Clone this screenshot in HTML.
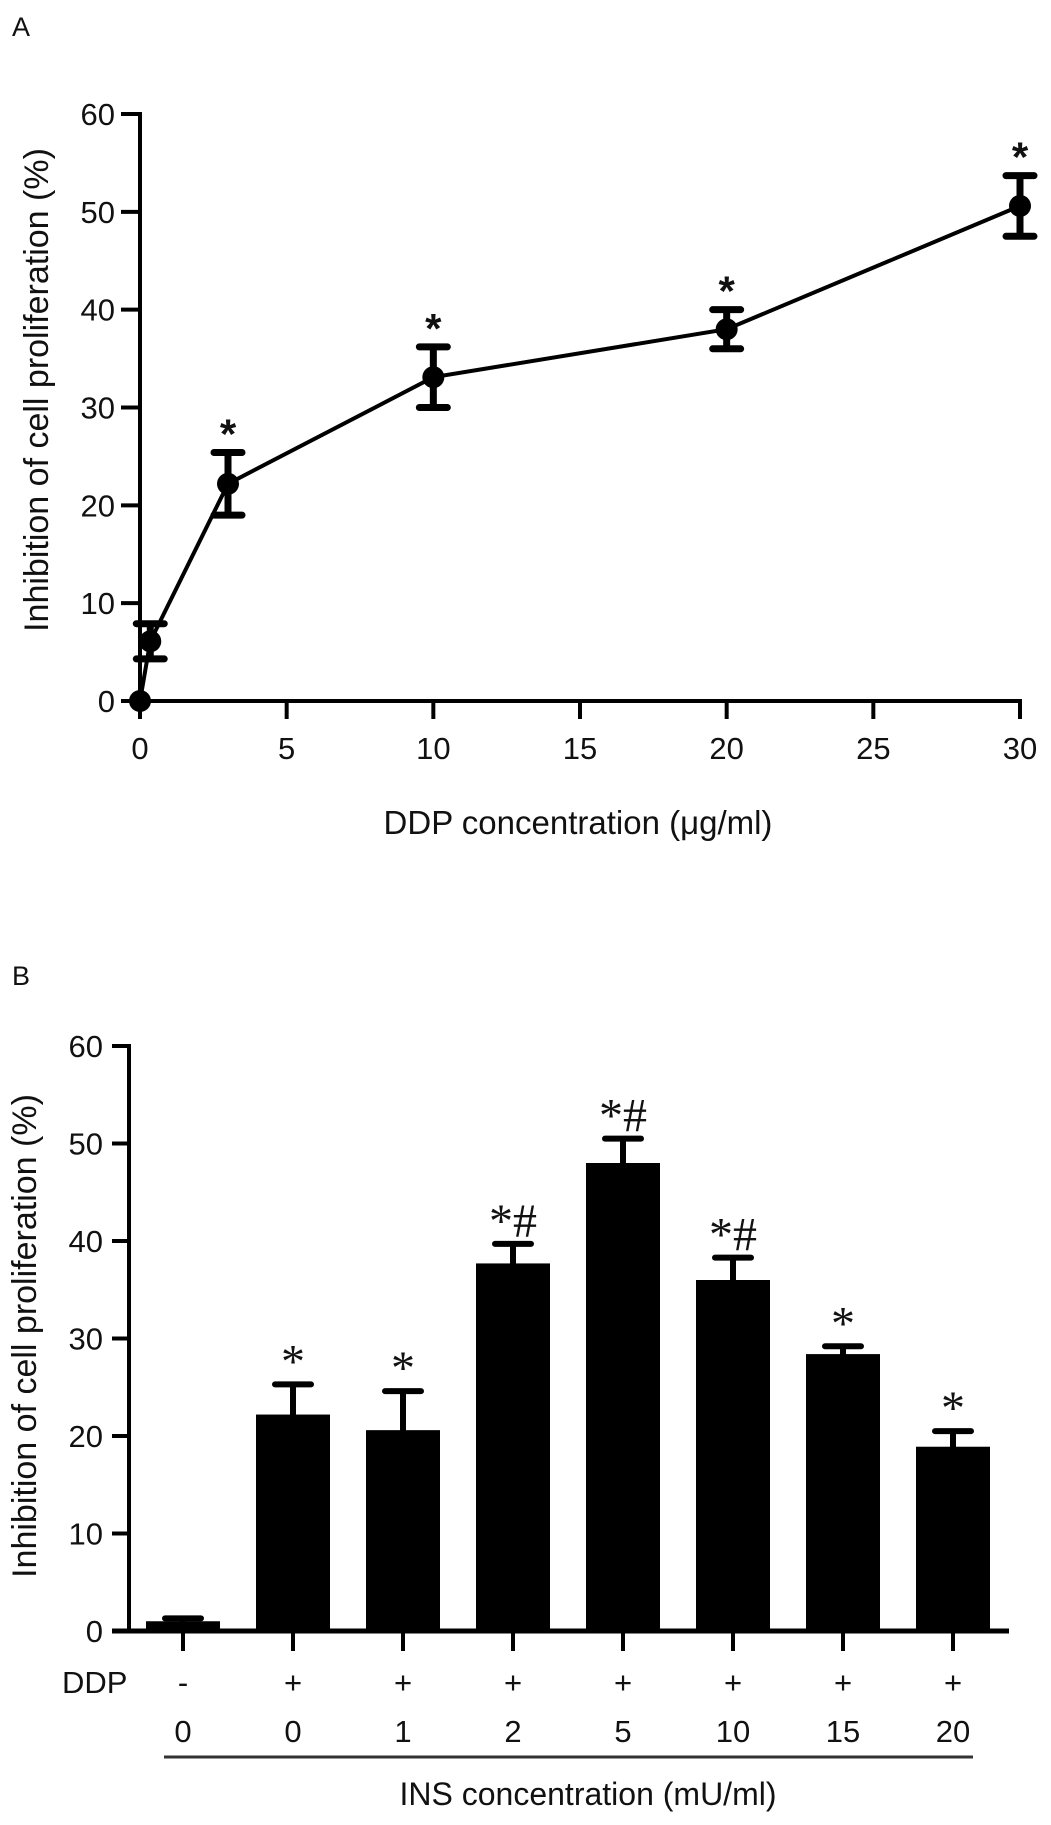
<!DOCTYPE html>
<html><head><meta charset="utf-8"><style>
html,body{margin:0;padding:0;background:#fff}
svg{display:block}
text{font-family:"Liberation Sans",Arial,sans-serif;fill:#111}
</style></head><body>
<svg id="fig" width="1051" height="1825" viewBox="0 0 1051 1825"></svg>
<script>
// Panel A data
const aX = [0, 0.35, 3, 10, 20, 30];
const aY = [0, 6.1, 22.2, 33.1, 38, 50.6];
const aErr = [0, 1.8, 3.2, 3.1, 2.0, 3.1];
const aStar = [false, false, true, true, true, true];
const aXTicks = [0, 5, 10, 15, 20, 25, 30];
const aYTicks = [0, 10, 20, 30, 40, 50, 60];
// Panel B data
const bCats = ["0", "0", "1", "2", "5", "10", "15", "20"];
const bDDP = ["-", "+", "+", "+", "+", "+", "+", "+"];
const bVals = [1.0, 22.2, 20.6, 37.7, 48.0, 36.0, 28.4, 18.9];
const bErr = [0.3, 3.1, 4.0, 2.0, 2.5, 2.3, 0.8, 1.6];
const bMarks = ["", "*", "*", "*#", "*#", "*#", "*", "*"];
const bYTicks = [0, 10, 20, 30, 40, 50, 60];

const NS = "http://www.w3.org/2000/svg";
const svg = document.getElementById("fig");
function el(tag, attrs, parent) {
  const e = document.createElementNS(NS, tag);
  for (const k in attrs) e.setAttribute(k, attrs[k]);
  (parent || svg).appendChild(e);
  return e;
}
function txt(s, attrs, parent) { const t = el("text", attrs, parent); t.textContent = s; return t; }
const FT = 31, FL = 33;

// ---------- Panel A ----------
const ax = v => 140 + v * (1020 - 140) / 30;
const ay = v => 701 - v * (701 - 114) / 60;
const gA = el("g", {});


const lblA = txt("A", {x: 12, y: 36, "font-size": 27}, gA);


const yAxA = el("line", {x1: ax(0), y1: ay(60) - 2, x2: ax(0), y2: ay(0), stroke: "#000", "stroke-width": 4}, gA);


const xAxA = el("line", {x1: ax(0) - 2, y1: ay(0), x2: ax(30) + 2, y2: ay(0), stroke: "#000", "stroke-width": 4}, gA);


aYTicks.forEach(v => {
  const t = el("line", {x1: ax(0) - 19, y1: ay(v), x2: ax(0), y2: ay(v), stroke: "#000", "stroke-width": 4}, gA);
  
  
  const l = txt(String(v), {x: ax(0) - 25, y: ay(v) + 11, "font-size": FT, "text-anchor": "end"}, gA);
  
  
});
aXTicks.forEach(v => {
  const t = el("line", {x1: ax(v), y1: ay(0), x2: ax(v), y2: ay(0) + 18, stroke: "#000", "stroke-width": 4}, gA);
  
  
  const l = txt(String(v), {x: ax(v), y: 759, "font-size": FT, "text-anchor": "middle"}, gA);
  
  
});
const ytA = txt("Inhibition of cell proliferation (%)", {x: 0, y: 0, "font-size": 34, "text-anchor": "middle", transform: "translate(48,390) rotate(-90)"}, gA);


const xtA = txt("DDP concentration (\u03bcg/ml)", {x: 578, y: 834, "font-size": FL, "text-anchor": "middle"}, gA);


const pts = aX.map((x, i) => ax(x) + "," + ay(aY[i])).join(" ");
const lineA = el("polyline", {points: pts, fill: "none", stroke: "#000", "stroke-width": 4}, gA);


aX.forEach((x, i) => {
  const cx = ax(x), cy = ay(aY[i]);
  if (aErr[i] > 0) {
    const top = ay(aY[i] + aErr[i]), bot = ay(aY[i] - aErr[i]);
    const e = el("path", {d: `M${cx},${top}V${bot}M${cx-14},${top}H${cx+14}M${cx-14},${bot}H${cx+14}`, stroke: "#000", "stroke-width": 7, "stroke-linecap": "round", fill: "none"}, gA);
    
    
    if (aStar[i]) {
      const s = txt("*", {x: cx, y: top - 4, "font-size": 42, "font-weight": "bold", "text-anchor": "middle"}, gA);
      
      
    }
  }
  const c = el("circle", {cx: cx, cy: cy, r: 11, fill: "#000"}, gA);
  
  
});

// ---------- Panel B ----------
const bx = i => 183 + i * 110;
const by = v => 1631 - v * (1631 - 1046) / 60;
const gB = el("g", {});


const lblB = txt("B", {x: 12, y: 985, "font-size": 27}, gB);


bVals.forEach((v, i) => {
  const cx = bx(i), top = by(v);
  const r = el("rect", {x: cx - 37, y: top, width: 74, height: by(0) - top, fill: "#000"}, gB);
  
  
  const et = by(v + bErr[i]);
  const e = el("path", {d: `M${cx},${top}V${et}M${cx-18},${et}H${cx+18}`, stroke: "#000", "stroke-width": 6, "stroke-linecap": "round", fill: "none"}, gB);
  
  
  if (bMarks[i]) {
    const s = txt(bMarks[i], {x: cx, y: et - 7, "font-size": 48, "text-anchor": "middle", style: "font-family:'Liberation Serif',serif"}, gB);
    
    
  }
  const t = el("line", {x1: cx, y1: by(0), x2: cx, y2: by(0) + 20, stroke: "#000", "stroke-width": 4}, gB);
  
  
  const d = txt(bDDP[i], {x: cx, y: 1693, "font-size": FT, "text-anchor": "middle"}, gB);
  
  
  const c = txt(bCats[i], {x: cx, y: 1742, "font-size": FT, "text-anchor": "middle"}, gB);
  
  
});
const yAxB = el("line", {x1: 129, y1: by(60) - 2, x2: 129, y2: by(0), stroke: "#000", "stroke-width": 4}, gB);


const xAxB = el("line", {x1: 112, y1: by(0), x2: 1009, y2: by(0), stroke: "#000", "stroke-width": 5}, gB);


bYTicks.forEach(v => {
  const t = el("line", {x1: 112, y1: by(v), x2: 129, y2: by(v), stroke: "#000", "stroke-width": 4}, gB);
  
  
  const l = txt(String(v), {x: 103, y: by(v) + 11, "font-size": FT, "text-anchor": "end"}, gB);
  
  
});
const ddpL = txt("DDP", {x: 62, y: 1693, "font-size": FT}, gB);


const ul = el("line", {x1: 164, y1: 1757, x2: 973, y2: 1757, stroke: "#333", "stroke-width": 3}, gB);


const xtB = txt("INS concentration (mU/ml)", {x: 588, y: 1805, "font-size": 32, "text-anchor": "middle"}, gB);


const ytB = txt("Inhibition of cell proliferation (%)", {x: 0, y: 0, "font-size": 34, "text-anchor": "middle", transform: "translate(36,1336) rotate(-90)"}, gB);


</script>
</body></html>
